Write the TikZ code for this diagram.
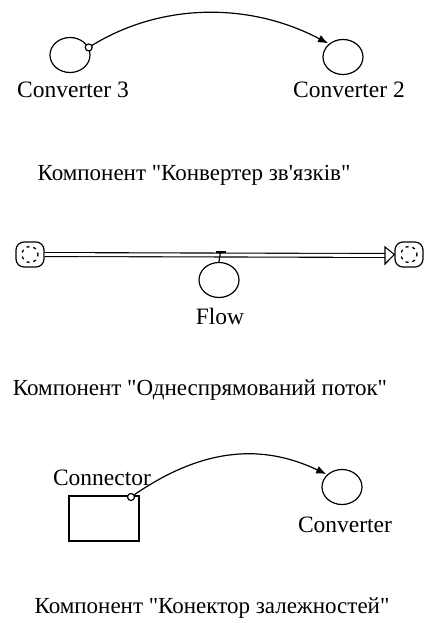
\documentclass[tikz,border=0pt]{standalone}
\usepackage{fontspec}
\setmainfont{Liberation Serif}[Ligatures=TeXOff]
\usetikzlibrary{shapes.geometric,arrows.meta}
\begin{document}
\begin{tikzpicture}[x=1pt,y=1pt,
  line width=1.2pt,
  conv/.style={draw,ellipse,minimum width=40pt,minimum height=35pt,inner sep=0pt},
  lbl/.style={font=\fontsize{23.5}{26}\selectfont,inner sep=0pt},
  ttl/.style={font=\fontsize{23}{26}\selectfont,inner sep=0pt},
  link/.style={-{Latex[length=10pt,width=8pt]}},
  knob/.style={draw,circle,minimum size=7pt,inner sep=0pt,fill=white},
  cloud/.style={draw,rounded corners=8pt,minimum width=28pt,minimum height=25pt,inner sep=0pt},
  pipe/.style={double,double distance=2.8pt,line width=1.1pt},
  flowhead/.style={draw,fill=white,line width=1.1pt}]
\useasboundingbox (0,0) rectangle (423,-623);

% --- converter link ---
\node[conv] (c3) at (70,-55) {};
\node[conv] (c2) at (343,-57) {};
\node[lbl] (c3l) at (73,-90) {Converter 3};
\node[lbl] (c2l) at (349,-90) {Converter 2};
\coordinate (c3o) at (c3.22);
\draw[link,shorten >=1pt] (c3o) .. controls (160,-2) and (250,-2) .. (c2.137);
\node[knob] (c3k) at (c3o) {};
\node[ttl] (t1) at (194,-175) {Компонент "Конвертер зв'язків"};

% --- flow between two clouds ---
\node[cloud] (cl) at (30,-254.5) {};
\node[cloud] (cr) at (409,-254.5) {};
\foreach \c in {cl,cr}
  \draw[line width=1.3pt,dash pattern=on 3pt off 4pt,dash phase=1pt] (\c.center) circle (8);
\coordinate (hb) at (385,-255.5);
\draw[pipe] (cl.east) -- (hb);
\draw[flowhead] (hb) ++(0,8.5) -- (cr.west) -- ([yshift=-8.5pt]hb) -- cycle;
\node[conv] (fv) at (219,-280) {};
\coordinate (vt) at (220.5,-252);
\draw (vt) -- (fv.north);
\draw ([xshift=-5pt]vt) -- ([xshift=5pt]vt);
\node[lbl] (fl) at (220,-316) {Flow};
\node[ttl] (t2) at (200,-390) {Компонент "Однеспрямований поток"};

% --- stock connector ---
\node[draw,minimum width=70pt,minimum height=45pt,inner sep=0pt] (st) at (104,-518.5) {};
\node[lbl] (stl) at (102,-478) {Connector};
\node[conv] (cv) at (342,-487) {};
\node[lbl] (cvl) at (345,-525) {Converter};
\coordinate (sto) at (131,-497);
\draw[link,shorten >=1pt] (sto) .. controls (205,-445) and (265,-445) .. (cv.140);
\node[knob] (stk) at (sto) {};
\node[ttl] (t3) at (212,-608) {Компонент "Конектор залежностей"};
\end{tikzpicture}
\end{document}
